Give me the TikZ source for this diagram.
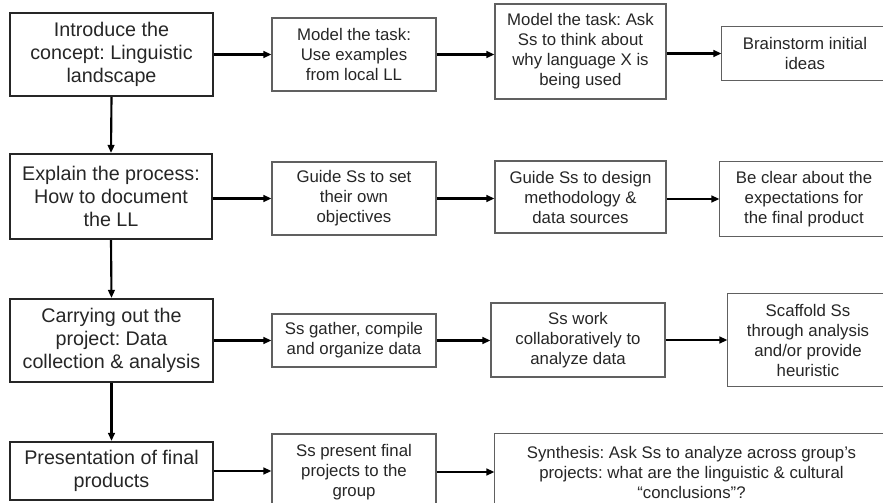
\documentclass[tikz,border=0pt]{standalone}
\usepackage{fontspec}
\setmainfont{Liberation Sans}
\usetikzlibrary{arrows.meta}
\frenchspacing
\definecolor{txt}{HTML}{262626}
\definecolor{thinb}{HTML}{606060}
\tikzset{
  mainbox/.style={draw=black!85, line width=1.6pt, align=center, text=txt, inner sep=0pt,
    font=\fontsize{14.8}{17.4}\selectfont},
  subbox/.style={draw=thinb, line width=0.8pt, align=center, text=txt, inner sep=0pt,
    font=\fontsize{12.6}{15}\selectfont},
  cutbox/.style={subbox, draw=none},
  cutframe/.style={draw=thinb, line width=0.8pt},
  arr/.style={line width=1.6pt, -{Triangle[length=6pt,width=5pt]}}
}
\begin{document}
\begin{tikzpicture}[x=0.75pt,y=-0.75pt]
\useasboundingbox (0,0) rectangle (883,503);
\clip (0,0) rectangle (883,503);
% left column
\node[mainbox, minimum width=152.25pt, minimum height=62.25pt] (a1) at (111.5,54.5) {Introduce the\\concept: Linguistic\\landscape};
\node[mainbox, minimum width=151.5pt, minimum height=63.75pt] (a2) at (111,196.5) {Explain the process:\\How to document\\the LL};
\node[mainbox, minimum width=152.25pt, minimum height=62.25pt] (a3) at (111.5,340.5) {Carrying out the\\project: Data\\collection \& analysis};
\node[mainbox, minimum width=152.25pt, minimum height=43.5pt] (a4) at (111.5,471) {Presentation of final\\products};
% second column
\node[subbox, minimum width=123pt, minimum height=54.75pt] (b1) at (354,54.5) {Model the task:\\Use examples\\from local LL};
\node[subbox, minimum width=123pt, minimum height=54.75pt] (b2) at (354,198.5) {Guide Ss to set\\their own\\objectives};
\node[subbox, minimum width=123pt, minimum height=39.75pt] (b3) at (354,340.5) {Ss gather, compile\\and organize data};
\node[subbox, minimum width=123pt, minimum height=57pt] (b4) at (354,472) {Ss present final\\projects to the\\group};
% third column
\node[subbox, minimum width=128.25pt, minimum height=71.25pt] (c1) at (580.5,51.5) {Model the task: Ask\\Ss to think about\\why language X is\\being used};
\node[subbox, minimum width=128.25pt, minimum height=54pt] (c2) at (580.5,197) {Guide Ss to design\\methodology \&\\data sources};
\node[subbox, minimum width=130.5pt, minimum height=55.5pt] (c3) at (578,340) {Ss work\\collaboratively to\\analyze data};
\node[cutbox, minimum width=294.75pt, minimum height=57pt] (c4) at (691.5,472) {Synthesis: Ask Ss to analyze across group's\\projects: what are the linguistic \& cultural\\``conclusions''?};
% fourth column
\node[cutbox, minimum width=124.5pt, minimum height=39.75pt] (d1) at (805,53.5) {Brainstorm initial\\ideas};
\node[cutbox, minimum width=126pt, minimum height=55.5pt] (d2) at (804,199) {Be clear about the\\expectations for\\the final product};
\node[cutbox, minimum width=120pt, minimum height=69pt] (d3) at (808,340) {Scaffold Ss\\through analysis\\and/or provide\\heuristic};
% frames of the boxes cut by the right edge
\draw[cutframe] (c4.north west) rectangle ([xshift=30pt]c4.south east);
\draw[cutframe] (d1.north west) rectangle ([xshift=30pt]d1.south east);
\draw[cutframe] (d2.north west) rectangle ([xshift=30pt]d2.south east);
\draw[cutframe] (d3.north west) rectangle ([xshift=30pt]d3.south east);
% vertical arrows
\draw[arr] (a1.south) -- (a2.north);
\draw[arr] (a2.south) -- (a3.north);
\draw[arr] (a3.south) -- (a4.north);
% row 1
\draw[arr] (a1.east) -- (a1.east -| b1.west);
\draw[arr] (b1.east) -- (b1.east -| c1.west);
\draw[arr] (c1.east |- d1.west) -- (d1.west);
% row 2
\draw[arr] (a2.east |- b2.west) -- (b2.west);
\draw[arr] (b2.east) -- (b2.east -| c2.west);
\draw[arr] (c2.east |- d2.west) -- (d2.west);
% row 3
\draw[arr] (a3.east) -- (a3.east -| b3.west);
\draw[arr] (b3.east) -- (b3.east -| c3.west);
\draw[arr] (c3.east) -- (c3.east -| d3.west);
% row 4
\draw[arr] (a4.east) -- (a4.east -| b4.west);
\draw[arr] (b4.east) -- (b4.east -| c4.west);
\end{tikzpicture}
\end{document}
